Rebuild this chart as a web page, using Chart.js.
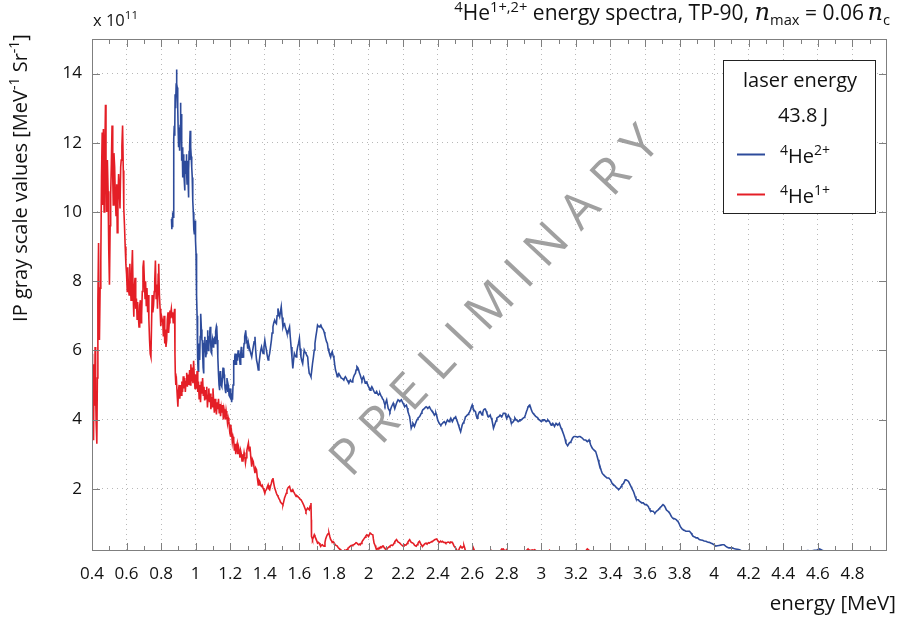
<!DOCTYPE html>
<html><head><meta charset="utf-8">
<script src="https://cdn.jsdelivr.net/npm/chart.js@4.4.1/dist/chart.umd.min.js"></script>
<style>html,body{margin:0;padding:0;background:#fff}#c{display:block}</style>
</head><body>
<canvas id="c" width="900" height="618"></canvas>
<script>
// ---------- data (values in units of 1e11 MeV^-1 Sr^-1, energy in MeV) ----------
const xTickValues = [0.4,0.5,0.6,0.7,0.8,0.9,1.0,1.1,1.2,1.3,1.4,1.5,1.6,1.7,1.8,1.9,2.0,2.1,2.2,2.3,2.4,2.5,2.6,2.7,2.8,2.9,3.0,3.1,3.2,3.3,3.4,3.5,3.6,3.7,3.8,3.9,4.0,4.1,4.2,4.3,4.4,4.5,4.6,4.7,4.8,4.9,5.0];
const xLabelValues = [0.4,0.6,0.8,1,1.2,1.4,1.6,1.8,2,2.2,2.4,2.6,2.8,3,3.2,3.4,3.6,3.8,4,4.2,4.4,4.6,4.8];
const yTickValues = [2,4,6,8,10,12,14];
const seriesNames = ['4He2+','4He1+'];
const seriesColors = ['#2d4b9b','#e41e26'];

const he2Points = [[0.860,9.8],[0.862,9.5],[0.864,9.85],[0.866,9.56],[0.868,9.9],[0.870,9.85],[0.872,11.48],[0.874,12.1],[0.876,12.49],[0.878,12.2],[0.880,12.44],[0.881,13.4],[0.883,13.0],[0.885,13.12],[0.887,13.7],[0.889,14.12],[0.891,13.7],[0.893,13.6],[0.895,13.2],[0.897,13.02],[0.899,12.3],[0.900,11.87],[0.902,12.2],[0.904,12.44],[0.906,12.0],[0.908,11.77],[0.910,12.5],[0.912,13.16],[0.914,12.7],[0.916,12.83],[0.918,12.1],[0.920,11.48],[0.922,11.87],[0.924,11.4],[0.926,11.0],[0.928,11.3],[0.930,11.67],[0.932,11.2],[0.934,10.9],[0.936,10.62],[0.938,11.1],[0.940,11.48],[0.942,11.1],[0.944,11.3],[0.946,11.67],[0.948,11.2],[0.950,10.81],[0.952,11.1],[0.954,11.48],[0.956,10.9],[0.958,10.42],[0.960,11.2],[0.962,11.77],[0.964,11.5],[0.966,11.9],[0.968,12.35],[0.970,12.0],[0.972,11.87],[0.974,11.6],[0.976,11.58],[0.978,11.3],[0.980,11.0],[0.982,10.7],[0.984,10.33],[0.986,10.0],[0.988,9.75],[0.990,9.5],[0.992,9.37],[0.994,9.55],[0.996,9.75],[0.998,9.4],[1.000,9.17],[1.002,8.8],[1.004,8.2],[1.006,7.6],[1.008,7.0],[1.010,6.4],[1.012,5.8],[1.014,5.4],[1.016,5.6],[1.018,6.2],[1.020,5.8],[1.023,5.72],[1.026,6.4],[1.028,6.9],[1.030,7.06],[1.033,6.6],[1.036,6.3],[1.038,6.29],[1.041,5.8],[1.043,5.5],[1.045,5.33],[1.048,5.9],[1.050,6.2],[1.053,6.39],[1.056,6.0],[1.058,5.8],[1.061,5.91],[1.064,6.3],[1.066,6.1],[1.068,6.58],[1.071,6.3],[1.074,6.0],[1.076,6.1],[1.079,6.4],[1.081,6.5],[1.084,6.68],[1.087,6.2],[1.089,5.95],[1.091,5.91],[1.094,6.1],[1.097,6.3],[1.099,6.2],[1.102,6.1],[1.104,6.35],[1.106,6.29],[1.109,6.4],[1.112,6.2],[1.114,6.49],[1.117,6.55],[1.120,6.7],[1.122,6.66],[1.125,6.3],[1.127,6.0],[1.129,5.81],[1.132,5.3],[1.135,5.0],[1.137,4.85],[1.140,5.1],[1.142,5.4],[1.144,5.33],[1.147,5.0],[1.150,5.2],[1.152,4.95],[1.155,5.2],[1.158,5.5],[1.160,5.43],[1.163,5.2],[1.165,5.3],[1.167,5.14],[1.170,4.9],[1.173,5.0],[1.175,4.76],[1.178,5.0],[1.181,5.2],[1.183,5.05],[1.186,4.8],[1.188,5.0],[1.190,4.95],[1.193,4.7],[1.196,4.9],[1.198,4.66],[1.201,4.9],[1.203,4.6],[1.205,4.76],[1.208,4.5],[1.211,4.7],[1.213,4.57],[1.216,5.0],[1.219,5.5],[1.221,5.72],[1.224,5.6],[1.226,5.8],[1.228,5.91],[1.231,5.7],[1.234,5.6],[1.236,5.72],[1.239,5.9],[1.241,5.7],[1.243,5.81],[1.246,6.0],[1.249,5.8],[1.251,5.91],[1.254,5.75],[1.257,5.6],[1.259,5.72],[1.262,5.9],[1.264,6.1],[1.266,6.01],[1.269,5.8],[1.272,5.9],[1.274,5.81],[1.277,6.0],[1.280,6.2],[1.282,6.29],[1.285,6.4],[1.287,6.5],[1.289,6.58],[1.292,6.4],[1.295,6.2],[1.297,6.29],[1.300,6.15],[1.302,6.05],[1.305,6.2],[1.310,6.0],[1.314,6.01],[1.319,5.9],[1.324,5.81],[1.328,5.95],[1.333,6.1],[1.338,6.25],[1.343,6.39],[1.347,6.0],[1.352,5.72],[1.357,5.6],[1.362,5.43],[1.366,5.6],[1.371,5.81],[1.376,6.0],[1.381,6.1],[1.385,6.0],[1.390,5.91],[1.395,6.1],[1.400,6.29],[1.404,6.15],[1.409,6.01],[1.414,5.85],[1.419,5.72],[1.423,5.8],[1.428,5.91],[1.433,6.1],[1.438,6.29],[1.442,6.5],[1.447,6.68],[1.452,6.8],[1.457,6.87],[1.462,6.8],[1.467,6.77],[1.471,7.0],[1.476,7.21],[1.481,7.05],[1.486,6.97],[1.490,7.1],[1.495,7.26],[1.500,6.95],[1.505,6.68],[1.509,6.75],[1.514,6.77],[1.519,6.65],[1.524,6.58],[1.528,6.5],[1.533,6.49],[1.538,6.6],[1.543,6.68],[1.547,6.4],[1.552,6.1],[1.557,5.8],[1.562,5.48],[1.566,5.7],[1.571,5.91],[1.576,5.85],[1.581,5.81],[1.585,5.95],[1.590,6.1],[1.595,6.2],[1.600,6.34],[1.604,6.05],[1.609,5.81],[1.614,5.7],[1.619,5.62],[1.623,5.8],[1.628,6.01],[1.633,5.95],[1.638,5.91],[1.643,5.85],[1.648,5.81],[1.652,5.55],[1.657,5.33],[1.662,5.3],[1.667,5.24],[1.671,5.4],[1.676,5.62],[1.681,5.8],[1.686,6.01],[1.690,6.2],[1.695,6.39],[1.700,6.55],[1.705,6.73],[1.709,6.7],[1.714,6.68],[1.719,6.7],[1.724,6.73],[1.728,6.68],[1.733,6.63],[1.738,6.6],[1.743,6.53],[1.747,6.45],[1.752,6.34],[1.757,6.25],[1.762,6.2],[1.766,6.05],[1.771,5.96],[1.776,5.9],[1.781,5.81],[1.785,5.9],[1.790,5.96],[1.795,5.85],[1.800,5.77],[1.804,5.6],[1.809,5.43],[1.814,5.35],[1.819,5.24],[1.823,5.3],[1.828,5.33],[1.833,5.28],[1.838,5.24],[1.842,5.2],[1.847,5.19],[1.852,5.17],[1.857,5.14],[1.861,5.2],[1.866,5.24],[1.871,5.2],[1.876,5.14],[1.881,5.1],[1.886,5.05],[1.890,5.1],[1.895,5.14],[1.900,5.1],[1.905,5.09],[1.909,5.15],[1.914,5.24],[1.919,5.3],[1.924,5.33],[1.928,5.43],[1.933,5.53],[1.938,5.5],[1.943,5.43],[1.947,5.35],[1.952,5.29],[1.957,5.2],[1.962,5.14],[1.966,5.2],[1.971,5.24],[1.976,5.15],[1.981,5.05],[1.985,5.08],[1.990,5.09],[1.995,5.0],[2.000,4.95],[2.005,4.9],[2.009,4.85],[2.014,4.9],[2.019,4.95],[2.024,4.9],[2.028,4.85],[2.033,4.8],[2.038,4.76],[2.043,4.78],[2.047,4.81],[2.052,4.75],[2.057,4.71],[2.062,4.74],[2.066,4.76],[2.071,4.7],[2.076,4.66],[2.081,4.6],[2.086,4.57],[2.090,4.5],[2.095,4.42],[2.100,4.5],[2.105,4.57],[2.109,4.45],[2.114,4.32],[2.119,4.28],[2.124,4.23],[2.128,4.3],[2.133,4.37],[2.138,4.42],[2.143,4.47],[2.147,4.4],[2.152,4.32],[2.157,4.4],[2.162,4.47],[2.166,4.52],[2.171,4.57],[2.176,4.55],[2.181,4.52],[2.185,4.55],[2.190,4.57],[2.195,4.52],[2.200,4.47],[2.205,4.42],[2.209,4.37],[2.214,4.4],[2.219,4.42],[2.224,4.33],[2.228,4.23],[2.233,4.15],[2.238,4.08],[2.243,3.9],[2.247,3.75],[2.252,3.82],[2.257,3.89],[2.262,3.85],[2.266,3.8],[2.271,3.87],[2.276,3.94],[2.281,4.0],[2.286,4.04],[2.290,4.06],[2.295,4.08],[2.300,4.13],[2.305,4.18],[2.309,4.23],[2.314,4.28],[2.319,4.3],[2.324,4.32],[2.328,4.35],[2.333,4.37],[2.338,4.35],[2.343,4.32],[2.347,4.35],[2.352,4.37],[2.357,4.32],[2.362,4.28],[2.366,4.25],[2.371,4.23],[2.376,4.18],[2.381,4.13],[2.385,4.16],[2.390,4.18],[2.395,4.1],[2.400,3.99],[2.405,3.93],[2.409,3.89],[2.414,3.86],[2.419,3.84],[2.424,3.87],[2.428,3.89],[2.433,3.92],[2.438,3.94],[2.443,3.9],[2.447,3.89],[2.452,3.94],[2.457,3.99],[2.462,3.96],[2.466,3.94],[2.471,3.99],[2.476,4.04],[2.481,3.98],[2.485,3.94],[2.490,3.99],[2.495,4.04],[2.500,4.06],[2.504,4.08],[2.509,4.0],[2.514,3.94],[2.519,3.86],[2.523,3.8],[2.528,3.72],[2.533,3.65],[2.538,3.75],[2.542,3.84],[2.547,3.9],[2.552,3.94],[2.557,4.0],[2.561,4.08],[2.566,4.1],[2.571,4.13],[2.576,4.15],[2.580,4.18],[2.585,4.22],[2.590,4.28],[2.595,4.36],[2.600,4.42],[2.604,4.35],[2.609,4.28],[2.614,4.25],[2.619,4.23],[2.623,4.12],[2.628,4.04],[2.633,4.12],[2.638,4.18],[2.642,4.22],[2.647,4.23],[2.652,4.18],[2.657,4.13],[2.661,4.2],[2.666,4.28],[2.671,4.3],[2.676,4.3],[2.681,4.24],[2.685,4.18],[2.690,4.12],[2.695,4.08],[2.700,4.1],[2.704,4.13],[2.709,4.05],[2.714,3.99],[2.719,3.86],[2.723,3.75],[2.728,3.82],[2.733,3.89],[2.738,3.96],[2.742,4.04],[2.747,4.06],[2.752,4.08],[2.757,4.1],[2.761,4.13],[2.766,4.1],[2.771,4.08],[2.776,4.13],[2.780,4.18],[2.785,4.18],[2.790,4.18],[2.795,4.1],[2.800,4.04],[2.804,4.08],[2.809,4.13],[2.814,4.08],[2.819,4.04],[2.823,3.96],[2.828,3.89],[2.833,3.92],[2.838,3.94],[2.843,3.99],[2.847,4.04],[2.852,4.0],[2.857,3.99],[2.861,3.96],[2.866,3.94],[2.871,3.96],[2.876,3.99],[2.881,3.99],[2.885,3.99],[2.890,4.02],[2.895,4.04],[2.900,4.06],[2.904,4.08],[2.909,4.15],[2.914,4.23],[2.919,4.3],[2.923,4.37],[2.928,4.4],[2.933,4.42],[2.938,4.35],[2.942,4.28],[2.947,4.22],[2.952,4.18],[2.957,4.15],[2.961,4.13],[2.966,4.1],[2.971,4.08],[2.976,4.06],[2.980,4.04],[2.985,4.0],[2.990,3.99],[2.995,3.96],[3.000,3.94],[3.005,3.97],[3.009,3.99],[3.014,3.99],[3.019,3.99],[3.024,3.96],[3.028,3.94],[3.033,3.96],[3.038,3.99],[3.043,3.96],[3.047,3.94],[3.052,3.88],[3.057,3.84],[3.061,3.86],[3.066,3.89],[3.071,3.85],[3.076,3.8],[3.081,3.85],[3.085,3.89],[3.090,3.86],[3.095,3.84],[3.100,3.86],[3.104,3.89],[3.109,3.82],[3.114,3.75],[3.119,3.7],[3.123,3.65],[3.128,3.58],[3.133,3.51],[3.138,3.42],[3.142,3.32],[3.147,3.28],[3.152,3.24],[3.157,3.28],[3.161,3.32],[3.166,3.34],[3.171,3.36],[3.176,3.41],[3.180,3.46],[3.185,3.49],[3.190,3.51],[3.195,3.51],[3.200,3.51],[3.204,3.5],[3.209,3.49],[3.214,3.5],[3.219,3.51],[3.224,3.51],[3.228,3.51],[3.233,3.48],[3.238,3.46],[3.243,3.43],[3.247,3.41],[3.252,3.41],[3.257,3.41],[3.261,3.38],[3.266,3.36],[3.271,3.38],[3.276,3.41],[3.281,3.34],[3.285,3.27],[3.290,3.22],[3.295,3.17],[3.300,3.14],[3.304,3.12],[3.309,3.1],[3.314,3.08],[3.319,3.0],[3.323,2.93],[3.328,2.84],[3.333,2.74],[3.338,2.67],[3.342,2.6],[3.347,2.52],[3.352,2.45],[3.357,2.42],[3.361,2.4],[3.366,2.37],[3.371,2.35],[3.376,2.33],[3.380,2.31],[3.385,2.31],[3.390,2.31],[3.395,2.28],[3.400,2.26],[3.404,2.21],[3.409,2.16],[3.414,2.13],[3.419,2.11],[3.424,2.09],[3.428,2.07],[3.433,2.04],[3.438,2.02],[3.443,2.0],[3.447,1.97],[3.452,2.0],[3.457,2.02],[3.461,2.06],[3.466,2.11],[3.471,2.13],[3.476,2.16],[3.481,2.21],[3.485,2.26],[3.490,2.26],[3.495,2.26],[3.500,2.23],[3.504,2.21],[3.509,2.16],[3.514,2.11],[3.519,2.06],[3.523,2.02],[3.528,1.97],[3.533,1.92],[3.538,1.85],[3.542,1.78],[3.547,1.72],[3.552,1.68],[3.557,1.68],[3.561,1.68],[3.566,1.65],[3.571,1.63],[3.576,1.61],[3.580,1.59],[3.585,1.59],[3.590,1.59],[3.595,1.56],[3.600,1.54],[3.604,1.54],[3.609,1.54],[3.614,1.51],[3.619,1.49],[3.623,1.44],[3.628,1.39],[3.633,1.37],[3.638,1.35],[3.642,1.35],[3.647,1.35],[3.652,1.32],[3.657,1.3],[3.661,1.32],[3.666,1.35],[3.671,1.37],[3.676,1.39],[3.681,1.42],[3.685,1.44],[3.690,1.47],[3.695,1.49],[3.700,1.52],[3.704,1.54],[3.709,1.52],[3.714,1.49],[3.719,1.44],[3.723,1.39],[3.728,1.37],[3.733,1.35],[3.738,1.32],[3.742,1.3],[3.747,1.25],[3.752,1.2],[3.757,1.17],[3.761,1.15],[3.766,1.14],[3.771,1.13],[3.776,1.12],[3.780,1.11],[3.785,1.08],[3.790,1.06],[3.795,1.01],[3.800,0.96],[3.804,0.91],[3.809,0.87],[3.814,0.84],[3.819,0.82],[3.823,0.81],[3.828,0.8],[3.833,0.78],[3.838,0.77],[3.842,0.77],[3.847,0.77],[3.852,0.77],[3.857,0.77],[3.861,0.75],[3.866,0.72],[3.871,0.68],[3.876,0.64],[3.881,0.62],[3.885,0.61],[3.890,0.6],[3.895,0.58],[3.900,0.58],[3.904,0.58],[3.914,0.53],[3.923,0.52],[3.933,0.51],[3.942,0.49],[3.952,0.48],[3.961,0.46],[3.971,0.45],[3.980,0.43],[3.990,0.41],[4.000,0.38],[4.009,0.34],[4.019,0.35],[4.028,0.36],[4.038,0.37],[4.047,0.38],[4.057,0.38],[4.066,0.34],[4.076,0.31],[4.085,0.29],[4.095,0.29],[4.104,0.29],[4.114,0.27],[4.123,0.26],[4.133,0.25],[4.142,0.24],[4.152,0.22],[4.161,0.19],[4.171,0.14],[4.200,0.08],[4.300,0.05],[4.400,0.06],[4.480,0.1],[4.504,0.2],[4.523,0.2],[4.542,0.21],[4.561,0.2],[4.580,0.22],[4.595,0.23],[4.609,0.26],[4.619,0.24],[4.628,0.21],[4.638,0.2],[4.647,0.18],[4.660,0.1]];

const he1Points = [[0.400,5.9],[0.402,4.2],[0.404,3.6],[0.407,5.0],[0.409,3.4],[0.412,5.6],[0.415,4.4],[0.418,6.1],[0.421,4.8],[0.424,3.9],[0.428,3.3],[0.431,5.2],[0.434,7.4],[0.438,9.1],[0.441,7.0],[0.443,6.3],[0.447,7.8],[0.451,8.6],[0.455,11.0],[0.459,12.3],[0.462,10.2],[0.466,12.4],[0.470,10.0],[0.474,11.6],[0.478,13.1],[0.481,11.3],[0.485,10.0],[0.489,11.5],[0.493,10.6],[0.497,8.9],[0.501,7.9],[0.505,9.6],[0.508,10.5],[0.512,11.4],[0.516,12.5],[0.520,11.0],[0.523,10.2],[0.527,11.7],[0.531,11.3],[0.535,10.4],[0.539,9.9],[0.543,10.8],[0.546,9.4],[0.550,10.3],[0.554,11.1],[0.558,10.6],[0.562,10.1],[0.566,11.3],[0.569,11.5],[0.573,11.9],[0.577,12.5],[0.581,11.2],[0.584,10.1],[0.588,9.6],[0.592,9.0],[0.596,8.5],[0.600,8.2],[0.604,7.7],[0.607,8.4],[0.611,7.8],[0.615,7.6],[0.619,8.5],[0.623,7.8],[0.626,7.45],[0.630,8.3],[0.634,8.9],[0.638,7.6],[0.642,6.97],[0.645,7.8],[0.649,8.1],[0.653,7.2],[0.657,7.5],[0.661,6.9],[0.664,7.4],[0.668,7.0],[0.672,6.68],[0.676,7.3],[0.680,7.45],[0.684,6.8],[0.687,7.0],[0.691,7.7],[0.695,8.4],[0.699,8.6],[0.703,8.0],[0.707,7.5],[0.710,8.0],[0.714,7.3],[0.718,7.8],[0.722,7.1],[0.725,7.6],[0.729,6.9],[0.733,6.3],[0.737,5.9],[0.741,5.81],[0.744,6.6],[0.748,7.6],[0.752,7.1],[0.756,7.3],[0.760,7.7],[0.763,8.0],[0.767,8.6],[0.771,7.5],[0.775,7.9],[0.779,7.2],[0.783,8.2],[0.786,8.5],[0.790,7.6],[0.794,7.2],[0.798,6.7],[0.802,7.0],[0.806,6.9],[0.809,6.87],[0.813,6.4],[0.817,7.0],[0.821,6.2],[0.824,6.6],[0.828,6.1],[0.832,6.3],[0.836,6.9],[0.840,7.1],[0.843,6.5],[0.847,6.8],[0.851,7.15],[0.855,7.05],[0.859,7.2],[0.863,6.95],[0.866,7.1],[0.870,6.8],[0.874,7.0],[0.878,7.2],[0.880,5.9],[0.882,5.33],[0.885,5.0],[0.889,5.1],[0.893,4.7],[0.897,4.37],[0.900,4.8],[0.904,5.0],[0.908,4.6],[0.912,5.0],[0.916,4.7],[0.920,5.1],[0.924,4.8],[0.928,5.25],[0.932,4.9],[0.936,5.2],[0.940,4.8],[0.944,5.1],[0.948,5.35],[0.952,4.95],[0.956,5.3],[0.960,5.0],[0.965,5.43],[0.969,5.0],[0.972,5.6],[0.976,5.1],[0.980,5.5],[0.984,5.05],[0.988,5.7],[0.992,5.2],[0.996,4.9],[1.000,5.3],[1.004,4.9],[1.008,5.4],[1.012,4.8],[1.016,5.1],[1.020,4.6],[1.024,5.0],[1.028,4.5],[1.032,5.1],[1.036,4.75],[1.040,5.2],[1.044,4.7],[1.048,4.95],[1.052,4.55],[1.056,4.85],[1.060,4.6],[1.064,4.95],[1.068,4.35],[1.072,4.7],[1.076,4.9],[1.080,4.5],[1.084,4.75],[1.088,4.3],[1.092,4.65],[1.096,4.37],[1.100,4.9],[1.104,4.5],[1.108,4.2],[1.112,4.6],[1.116,4.4],[1.120,4.15],[1.124,4.5],[1.128,4.3],[1.132,4.6],[1.136,4.2],[1.140,4.45],[1.144,4.1],[1.148,4.35],[1.152,4.2],[1.156,4.42],[1.160,4.0],[1.164,4.3],[1.168,4.18],[1.172,4.0],[1.176,4.25],[1.180,4.1],[1.184,3.9],[1.188,4.05],[1.192,3.95],[1.196,3.7],[1.200,3.85],[1.204,3.5],[1.208,3.6],[1.212,3.35],[1.216,3.5],[1.220,3.4],[1.224,3.1],[1.228,3.3],[1.232,3.0],[1.236,3.2],[1.240,3.3],[1.244,3.0],[1.248,3.2],[1.252,3.1],[1.256,2.9],[1.260,3.1],[1.264,3.0],[1.268,2.8],[1.272,3.0],[1.276,2.9],[1.280,3.05],[1.284,2.93],[1.288,2.75],[1.292,2.9],[1.296,3.1],[1.300,3.2],[1.305,3.32],[1.309,3.1],[1.314,3.22],[1.319,2.9],[1.324,2.64],[1.328,2.85],[1.333,2.79],[1.338,2.6],[1.343,2.45],[1.347,2.6],[1.352,2.55],[1.357,2.3],[1.362,2.11],[1.366,2.25],[1.371,2.21],[1.376,2.1],[1.381,2.07],[1.385,2.1],[1.390,2.02],[1.395,1.95],[1.400,1.87],[1.404,1.95],[1.409,1.97],[1.414,2.05],[1.419,2.11],[1.423,2.0],[1.428,1.97],[1.433,2.08],[1.438,2.16],[1.442,2.25],[1.447,2.31],[1.452,2.15],[1.457,2.02],[1.462,1.95],[1.467,1.87],[1.471,1.82],[1.476,1.78],[1.481,1.72],[1.486,1.68],[1.490,1.62],[1.495,1.59],[1.500,1.56],[1.505,1.54],[1.509,1.62],[1.514,1.73],[1.519,1.8],[1.524,1.87],[1.528,1.95],[1.533,2.02],[1.538,2.05],[1.543,2.07],[1.547,2.0],[1.552,1.92],[1.557,1.95],[1.562,1.97],[1.566,1.92],[1.571,1.87],[1.576,1.82],[1.581,1.78],[1.585,1.8],[1.590,1.78],[1.595,1.75],[1.600,1.73],[1.604,1.7],[1.609,1.68],[1.614,1.64],[1.619,1.59],[1.623,1.55],[1.628,1.49],[1.633,1.42],[1.638,1.35],[1.643,1.4],[1.648,1.44],[1.652,1.42],[1.657,1.39],[1.662,1.5],[1.667,1.59],[1.669,1.1],[1.670,0.62],[1.673,0.58],[1.676,0.53],[1.681,0.6],[1.686,0.67],[1.690,0.62],[1.695,0.57],[1.700,0.5],[1.705,0.43],[1.709,0.45],[1.714,0.43],[1.719,0.38],[1.724,0.34],[1.728,0.37],[1.733,0.38],[1.738,0.35],[1.743,0.34],[1.748,0.45],[1.752,0.55],[1.757,0.62],[1.762,0.67],[1.766,0.7],[1.771,0.72],[1.776,0.62],[1.781,0.53],[1.786,0.5],[1.790,0.45],[1.795,0.47],[1.800,0.43],[1.805,0.4],[1.809,0.37],[1.814,0.36],[1.819,0.34],[1.824,0.3],[1.828,0.28],[1.833,0.26],[1.838,0.24],[1.843,0.22],[1.847,0.2],[1.852,0.18],[1.857,0.19],[1.862,0.22],[1.866,0.2],[1.871,0.23],[1.876,0.24],[1.881,0.28],[1.886,0.3],[1.890,0.32],[1.895,0.34],[1.900,0.36],[1.905,0.35],[1.909,0.37],[1.914,0.38],[1.919,0.4],[1.924,0.42],[1.928,0.44],[1.933,0.43],[1.938,0.4],[1.943,0.38],[1.947,0.4],[1.952,0.38],[1.957,0.42],[1.962,0.46],[1.966,0.5],[1.971,0.53],[1.976,0.57],[1.981,0.6],[1.985,0.64],[1.990,0.67],[1.995,0.65],[2.000,0.62],[2.005,0.67],[2.009,0.72],[2.014,0.7],[2.019,0.68],[2.025,0.67],[2.028,0.55],[2.032,0.43],[2.038,0.36],[2.042,0.3],[2.047,0.24],[2.052,0.27],[2.057,0.26],[2.062,0.3],[2.066,0.29],[2.071,0.32],[2.076,0.3],[2.081,0.34],[2.086,0.34],[2.090,0.3],[2.095,0.27],[2.100,0.26],[2.105,0.24],[2.110,0.28],[2.114,0.3],[2.119,0.32],[2.124,0.34],[2.128,0.36],[2.133,0.37],[2.138,0.36],[2.143,0.38],[2.148,0.43],[2.152,0.47],[2.157,0.5],[2.162,0.53],[2.166,0.5],[2.171,0.46],[2.176,0.45],[2.181,0.43],[2.186,0.4],[2.190,0.38],[2.195,0.36],[2.200,0.34],[2.205,0.36],[2.209,0.38],[2.214,0.37],[2.219,0.38],[2.224,0.42],[2.228,0.46],[2.233,0.5],[2.238,0.53],[2.243,0.48],[2.247,0.45],[2.252,0.44],[2.257,0.43],[2.262,0.4],[2.266,0.37],[2.271,0.35],[2.276,0.34],[2.281,0.38],[2.286,0.42],[2.290,0.46],[2.295,0.48],[2.300,0.43],[2.305,0.38],[2.309,0.35],[2.314,0.34],[2.319,0.37],[2.324,0.4],[2.328,0.42],[2.333,0.43],[2.338,0.41],[2.343,0.42],[2.347,0.44],[2.352,0.43],[2.357,0.45],[2.362,0.46],[2.366,0.47],[2.371,0.48],[2.376,0.5],[2.381,0.52],[2.385,0.53],[2.390,0.53],[2.395,0.55],[2.400,0.5],[2.405,0.47],[2.409,0.45],[2.414,0.47],[2.419,0.48],[2.424,0.46],[2.428,0.48],[2.433,0.46],[2.438,0.44],[2.443,0.45],[2.447,0.43],[2.452,0.44],[2.457,0.45],[2.462,0.46],[2.466,0.45],[2.471,0.44],[2.476,0.46],[2.481,0.45],[2.485,0.45],[2.490,0.4],[2.495,0.34],[2.500,0.31],[2.504,0.29],[2.509,0.24],[2.514,0.19],[2.519,0.21],[2.523,0.24],[2.528,0.3],[2.533,0.34],[2.538,0.3],[2.542,0.29],[2.547,0.32],[2.552,0.36],[2.557,0.28],[2.561,0.19],[2.571,0.12],[2.580,0.14],[2.590,0.18],[2.600,0.22],[2.605,0.24],[2.609,0.26],[2.614,0.2],[2.619,0.14],[2.640,0.08],[2.680,0.1],[2.700,0.16],[2.704,0.19],[2.709,0.22],[2.714,0.21],[2.720,0.15],[2.740,0.1],[2.761,0.19],[2.766,0.22],[2.771,0.26],[2.776,0.25],[2.780,0.26],[2.785,0.22],[2.790,0.22],[2.795,0.2],[2.800,0.24],[2.805,0.21],[2.809,0.19],[2.820,0.1],[2.880,0.08],[2.904,0.19],[2.909,0.2],[2.914,0.22],[2.919,0.24],[2.923,0.26],[2.928,0.23],[2.933,0.21],[2.938,0.22],[2.942,0.22],[2.947,0.23],[2.952,0.22],[2.957,0.23],[2.961,0.24],[2.966,0.22],[2.971,0.19],[2.990,0.1],[3.020,0.1],[3.038,0.19],[3.043,0.2],[3.047,0.22],[3.052,0.19],[3.057,0.14],[3.100,0.05],[3.240,0.06],[3.252,0.16],[3.257,0.19],[3.261,0.23],[3.266,0.26],[3.271,0.24],[3.276,0.22],[3.281,0.18],[3.285,0.14],[3.300,0.05]];

// ---------- styling ----------
const SANS = '"Open Sans", "DejaVu Sans", sans-serif';
const MATH = '"DejaVu Serif", "Liberation Serif", serif';
const AXIS_GREY = '#7f7f7f';
const GRID_GREY = '#b8b8b8';

function isLabelled(v){ return xLabelValues.some(l => Math.abs(l - v) < 1e-6); }

function drawRich(ctx, parts, x, y, align, base){
  const items = parts.map(p => {
    const sz = (p.sup || p.sub) ? base * 0.7 : (p.math ? base * 1.15 : base);
    const f = p.math ? `italic ${sz}px ${MATH}` : `${sz}px ${SANS}`;
    ctx.font = f;
    return {p, f, w: ctx.measureText(p.t).width, dy: p.sup ? -base * 0.4 : (p.sub ? base * 0.22 : 0)};
  });
  const total = items.reduce((a, b) => a + b.w, 0);
  let cx = align === 'right' ? x - total : (align === 'center' ? x - total / 2 : x);
  ctx.textAlign = 'left'; ctx.textBaseline = 'alphabetic';
  for (const it of items){ ctx.font = it.f; ctx.fillText(it.p.t, cx, y + it.dy); cx += it.w; }
  return total;
}

const decorPlugin = {
  id: 'decor',
  afterDatasetsDraw(chart){
    const ctx = chart.ctx;
    // PRELIMINARY watermark
    ctx.save();
    ctx.translate(496, 302);
    ctx.rotate(-47 * Math.PI / 180);
    ctx.font = `50px ${SANS}`;
    ctx.fillStyle = 'rgba(150,150,150,0.9)';
    ctx.textBaseline = 'middle'; ctx.textAlign = 'left';
    const word = 'PRELIMINARY';
    const gap = 14;
    const ws = [...word].map(c => ctx.measureText(c).width);
    const total = ws.reduce((a, b) => a + b, 0) + gap * (word.length - 1);
    let cx = -total / 2;
    [...word].forEach((c, i) => { ctx.fillText(c, cx, 0); cx += ws[i] + gap; });
    ctx.restore();
  },
  afterDraw(chart){
    const ctx = chart.ctx;
    const {left, right, top, bottom} = chart.chartArea;
    const xs = chart.scales.x, ys = chart.scales.y;
    ctx.save();
    // frame
    ctx.strokeStyle = AXIS_GREY; ctx.lineWidth = 1;
    ctx.strokeRect(Math.round(left) + 0.5, Math.round(top) + 0.5, Math.round(right - left) - 1, Math.round(bottom - top) - 1);
    // inward ticks
    ctx.beginPath();
    xTickValues.forEach(v => {
      if (v <= 0.4 + 1e-6 || v >= 5.0 - 1e-6) return;
      const px = Math.round(xs.getPixelForValue(v)) + 0.5;
      const L = isLabelled(v) ? 8 : 5;
      ctx.moveTo(px, bottom); ctx.lineTo(px, bottom - L);
      ctx.moveTo(px, top); ctx.lineTo(px, top + L);
    });
    yTickValues.forEach(v => {
      const py = Math.round(ys.getPixelForValue(v)) + 0.5;
      ctx.moveTo(left, py); ctx.lineTo(left + 8, py);
      ctx.moveTo(right, py); ctx.lineTo(right - 8, py);
    });
    ctx.stroke();

    ctx.fillStyle = '#111';
    // x 10^11
    drawRich(ctx, [{t:'x 10'}, {t:'11', sup:true}], 93, 26, 'left', 16.5);
    // title
    drawRich(ctx, [{t:'4', sup:true}, {t:'He'}, {t:'1+,2+', sup:true}, {t:' energy spectra, TP-90, '},
      {t:'n', math:true}, {t:'max', sub:true}, {t:' = 0.06\u2009'}, {t:'n', math:true}, {t:'c', sub:true}], 890, 20, 'right', 21);
    // x title
    drawRich(ctx, [{t:'energy [MeV]'}], 896, 610, 'right', 20.5);
    // y title (rotated)
    ctx.save();
    ctx.translate(27, 178);
    ctx.rotate(-Math.PI / 2);
    drawRich(ctx, [{t:'IP gray scale values [MeV'}, {t:'-1', sup:true}, {t:' Sr'}, {t:'-1', sup:true}, {t:']'}], 0, 0, 'center', 20);
    ctx.restore();

    // legend box
    const bx = 723, by = 60, bw = 152, bh = 153;
    ctx.fillStyle = '#fff';
    ctx.fillRect(bx, by, bw, bh);
    ctx.strokeStyle = '#222'; ctx.lineWidth = 1;
    ctx.strokeRect(bx + 0.5, by + 0.5, bw, bh);
    ctx.fillStyle = '#111';
    drawRich(ctx, [{t:'laser energy'}], 800, 87, 'center', 20);
    drawRich(ctx, [{t:'43.8 J'}], 803, 122, 'center', 20);
    const legendRows = [
      {ds: 0, y: 154.5, parts: [{t:'4', sup:true}, {t:'He'}, {t:'2+', sup:true}]},
      {ds: 1, y: 194.5, parts: [{t:'4', sup:true}, {t:'He'}, {t:'1+', sup:true}]}
    ];
    legendRows.forEach(r => {
      ctx.strokeStyle = chart.data.datasets[r.ds].borderColor;
      ctx.lineWidth = 2;
      ctx.beginPath(); ctx.moveTo(737, r.y); ctx.lineTo(765, r.y); ctx.stroke();
      ctx.fillStyle = '#111';
      drawRich(ctx, r.parts, 780, r.y + 8.5, 'left', 20);
    });
    ctx.restore();
  }
};

const chart = new Chart(document.getElementById('c').getContext('2d'), {
  type: 'line',
  data: {
    datasets: [
      {label: seriesNames[0], data: he2Points.map(p => ({x: p[0], y: p[1]})), borderColor: seriesColors[0], borderWidth: 1.6, pointRadius: 0, tension: 0, fill: false, order: 1},
      {label: seriesNames[1], data: he1Points.map(p => ({x: p[0], y: p[1]})), borderColor: seriesColors[1], borderWidth: 1.6, pointRadius: 0, tension: 0, fill: false, order: 0}
    ]
  },
  options: {
    responsive: false,
    animation: false,
    devicePixelRatio: 1,
    layout: {padding: {top: 39, right: 4, left: 0, bottom: 0}},
    plugins: {legend: {display: false}, tooltip: {enabled: false}, title: {display: false}},
    scales: {
      x: {
        type: 'linear', min: 0.4, max: 5.0,
        afterBuildTicks: s => { s.ticks = xTickValues.map(v => ({value: v})); },
        afterFit: s => { s.height = 67; },
        grid: {drawTicks: false, lineWidth: 1, borderDash: [1, 4],
          color: c => (c.tick && isLabelled(c.tick.value) && c.tick.value > 0.41) ? GRID_GREY : 'rgba(0,0,0,0)'},
        border: {display: false, dash: [1, 4]},
        ticks: {autoSkip: false, maxRotation: 0, minRotation: 0, padding: 13, color: '#111',
          font: {family: SANS, size: 17},
          callback: v => isLabelled(v) ? String(+(+v).toFixed(1)) : ''}
      },
      y: {
        type: 'linear', min: 0.2, max: 15,
        afterBuildTicks: s => { s.ticks = yTickValues.map(v => ({value: v})); },
        afterFit: s => { s.width = 92; },
        grid: {drawTicks: false, lineWidth: 1, borderDash: [1, 4], color: GRID_GREY},
        border: {display: false, dash: [1, 4]},
        ticks: {padding: 10, color: '#111', font: {family: SANS, size: 17}, callback: v => String(v)}
      }
    }
  },
  plugins: [decorPlugin]
});
</script>
</body></html>
